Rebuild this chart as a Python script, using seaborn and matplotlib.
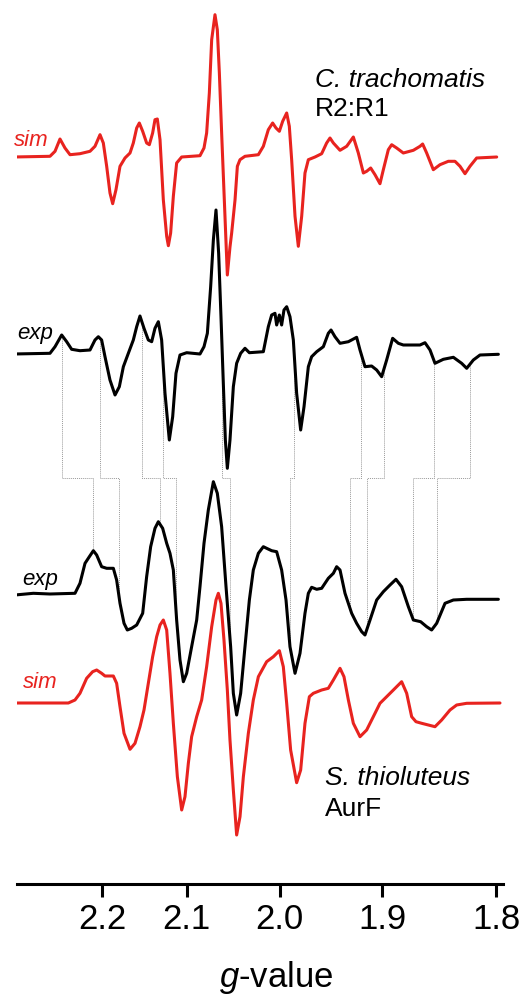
import numpy as np
import pandas as pd
import matplotlib
matplotlib.use("Agg")
import matplotlib.pyplot as plt
import seaborn as sns

# ---------------- data ----------------
nu_GHz = 9.10                      # microwave frequency (field axis)
g_ticks = [2.2, 2.1, 2.0, 1.9, 1.8]

# C. trachomatis R2:R1 simulation (field mT, intensity a.u.)
ct_sim_B = [280.72, 286.83, 287.67, 288.5, 289.33, 290.17, 291.83, 293.5, 294.33, 295.17,
            295.72, 296.28, 296.83, 297.28, 297.83, 298.5, 299.33, 300.17, 300.72, 301.28,
            301.72, 302.28, 302.94, 303.39, 303.94, 304.33, 304.72, 305.17, 305.72, 306.28,
            306.56, 306.94, 307.39, 307.94, 308.78, 311.83, 312.5, 312.94, 313.39, 313.78,
            314.33, 314.72, 315.06, 315.44, 316.0, 316.39, 316.83, 317.11, 317.67, 318.06,
            318.5, 319.33, 321.56, 322.39, 323.22, 323.94, 324.5, 325.06, 325.61, 326.28,
            326.72, 327.11, 327.67, 328.22, 328.78, 329.33, 329.89, 331.0, 332.11, 332.94,
            333.5, 334.06, 335.17, 336.28, 337.39, 338.22, 339.06, 339.61, 340.28, 341.0,
            341.83, 342.39, 343.22, 343.78, 344.61, 345.72, 347.39, 348.5, 348.94, 349.61,
            350.72, 351.83, 353.22, 354.33, 355.17, 356.0, 356.83, 357.94, 361.28]
ct_sim_I = [0.0, 0.07, 0.57, 1.8, 0.9, 0.23, 0.33, 0.57, 1.07, 2.23,
            1.4, -0.93, -3.6, -4.67, -3.27, -0.93, -0.1, 0.4, 1.4, 2.9,
            3.4, 2.57, 1.4, 1.23, 2.4, 3.73, 3.8, 1.73, -4.27, -7.93,
            -8.87, -7.6, -3.93, -0.6, 0.0, 0.13, 0.9, 2.4, 6.4, 11.73,
            14.23, 12.73, 8.4, 2.4, -6.0, -11.8, -9.0, -7.6, -4.3, -0.93,
            -0.27, 0.07, 0.23, 1.07, 2.73, 3.4, 2.9, 2.57, 3.57, 4.4,
            3.07, -0.27, -5.93, -8.93, -5.93, -1.6, -0.27, 0.0, 0.33, 1.4,
            1.9, 1.4, 0.67, 1.07, 2.0, 0.4, -1.6, -1.43, -1.1, -1.77,
            -2.67, -1.27, 0.73, 1.23, 0.9, 0.4, 0.67, 1.07, 1.3, 0.4,
            -1.27, -0.77, -0.43, -0.43, -0.93, -1.67, -0.93, -0.1, 0.0]

# C. trachomatis R2:R1 experiment
ct_exp_B = [280.72, 286.83, 287.67, 288.78, 289.61, 290.44, 291.83, 293.5, 294.33, 294.89,
            295.44, 296.0, 296.83, 297.67, 298.39, 299.06, 299.89, 300.72, 301.28, 301.83,
            302.5, 303.22, 303.78, 304.33, 304.89, 305.44, 306.0, 306.72, 307.28, 307.83,
            308.5, 309.61, 311.83, 312.5, 313.06, 313.61, 314.06, 314.5, 314.94, 315.33,
            315.72, 316.06, 316.39, 316.83, 317.39, 317.94, 318.61, 319.33, 320.06, 322.39,
            323.22, 323.78, 324.33, 324.61, 325.06, 325.44, 325.83, 326.28, 326.83, 327.39,
            327.94, 328.61, 329.17, 329.89, 330.44, 331.28, 332.39, 333.22, 333.67, 334.33,
            335.17, 336.56, 337.94, 338.5, 339.33, 340.44, 341.28, 342.11, 342.94, 343.94,
            344.89, 345.72, 348.5, 349.33, 350.17, 351.0, 352.39, 354.06, 355.44, 356.28,
            357.39, 358.5, 361.56]
ct_exp_I = [0.0, 0.07, 0.73, 1.9, 1.23, 0.47, 0.33, 0.4, 1.4, 1.73,
            1.4, -0.27, -2.6, -4.1, -3.27, -1.27, 0.07, 1.4, 2.73, 3.8,
            2.57, 1.4, 1.23, 2.57, 3.23, 1.4, -3.93, -8.6, -6.27, -1.93,
            -0.1, 0.13, 0.0, 0.73, 2.07, 6.73, 11.4, 14.4, 10.07, 3.73,
            -2.93, -8.6, -11.43, -8.6, -3.27, -0.93, 0.07, 0.57, 0.13, 0.23,
            2.73, 3.9, 4.07, 2.9, 3.9, 2.9, 4.4, 4.73, 3.73, 1.4,
            -3.93, -7.6, -5.27, -1.27, -0.27, 0.23, 0.73, 2.07, 2.4, 1.73,
            1.07, 1.23, 1.67, 0.4, -1.27, -1.2, -1.6, -2.27, -0.6, 1.57,
            1.07, 0.9, 0.9, 1.13, 0.4, -0.93, -0.53, -0.33, -0.93, -1.43,
            -0.6, -0.1, -0.03]

# S. thioluteus AurF experiment
aurf_exp_B = [281.0, 284.06, 286.83, 291.0, 291.83, 292.67, 293.39, 294.06, 294.61, 295.44,
              296.28, 297.39, 297.94, 298.5, 299.17, 299.72, 300.44, 301.28, 302.28, 302.94,
              303.61, 304.33, 304.89, 305.61, 306.28, 306.83, 307.39, 307.94, 308.5, 309.06,
              309.61, 310.44, 311.28, 311.83, 312.5, 313.22, 314.06, 314.72, 315.44, 316.17,
              316.94, 317.39, 317.94, 318.61, 319.33, 320.06, 320.72, 321.56, 322.39, 322.94,
              323.78, 324.61, 325.44, 326.17, 326.83, 327.67, 328.5, 329.33, 329.89, 330.44,
              331.28, 332.11, 333.22, 334.06, 334.61, 335.17, 336.0, 337.11, 337.94, 338.78,
              339.33, 340.17, 341.28, 342.39, 343.5, 344.5, 345.44, 346.56, 347.39, 348.61,
              349.61, 350.44, 351.28, 352.67, 354.06, 356.28, 361.56]
aurf_exp_I = [0.0, 0.17, 0.1, 0.17, 1.17, 3.17, 3.83, 4.43, 4.0, 2.83,
              2.67, 2.67, 1.5, -0.83, -2.83, -3.5, -3.33, -3.0, -1.83, 1.83,
              4.83, 6.67, 7.33, 6.67, 5.17, 4.17, 2.5, -2.5, -6.5, -8.67,
              -7.83, -5.17, -2.5, 0.83, 5.17, 8.5, 11.33, 10.17, 6.83, 0.83,
              -5.17, -9.83, -12.0, -9.83, -5.17, -0.5, 2.5, 4.17, 4.83, 4.67,
              4.43, 4.33, 2.5, -0.5, -5.17, -7.83, -5.83, -1.83, 0.17, 0.77,
              0.57, 0.67, 1.67, 2.17, 2.83, 2.5, 0.17, -1.83, -2.83, -3.67,
              -4.0, -2.5, -0.5, 0.33, 1.0, 1.57, 0.83, -1.17, -2.5, -2.67,
              -3.17, -3.5, -2.83, -0.83, -0.5, -0.43, -0.43]

# S. thioluteus AurF simulation
aurf_sim_B = [281.28, 289.89, 291.0, 291.83, 292.94, 293.94, 294.61, 295.44, 296.0, 297.39,
              297.94, 298.5, 299.17, 300.17, 301.0, 301.83, 302.5, 303.22, 303.94, 304.61,
              305.17, 305.72, 306.28, 306.83, 307.39, 308.06, 308.78, 309.33, 309.89, 310.44,
              311.28, 312.11, 312.94, 313.78, 314.5, 314.89, 315.33, 315.83, 316.39, 316.83,
              317.39, 317.94, 318.5, 319.06, 319.89, 320.72, 321.56, 322.94, 324.06, 325.06,
              325.72, 326.28, 326.94, 327.94, 328.61, 329.33, 330.06, 330.72, 332.11, 333.22,
              334.06, 335.17, 335.83, 336.56, 337.39, 338.5, 339.61, 340.72, 341.83, 342.94,
              344.06, 345.44, 346.28, 347.11, 347.83, 348.78, 349.89, 351.0, 352.11, 353.5,
              354.61, 356.28, 361.83]
aurf_sim_I = [0.0, 0.0, 0.3, 0.97, 2.47, 3.13, 3.3, 2.97, 2.7, 2.7,
              1.97, -0.37, -3.03, -4.63, -4.03, -2.37, -0.7, 1.97, 4.63, 6.63,
              7.8, 8.3, 7.3, 2.97, -2.03, -7.37, -10.7, -9.37, -6.03, -3.37,
              -1.37, 0.3, 3.63, 7.63, 10.3, 10.97, 9.97, 6.3, 1.3, -3.7,
              -8.7, -13.2, -11.37, -7.37, -3.03, 0.3, 2.63, 4.13, 4.63, 5.23,
              3.63, -0.03, -4.7, -7.97, -6.7, -2.03, 0.63, 0.97, 1.3, 1.47,
              2.3, 3.47, 2.63, 0.3, -2.03, -3.37, -2.7, -1.37, -0.03, 0.63,
              1.3, 2.13, 0.97, -1.37, -1.87, -2.03, -2.2, -2.37, -1.7, -0.7,
              -0.2, -0.03, 0.0]

# correlated features (field mT): C. trachomatis line -> AurF line
ct_feature_B = [288.83, 295.17, 302.17, 305.67, 315.5, 327.5, 338.67, 342.5, 350.83, 356.83]
aurf_feature_B = [294.0, 298.33, 305.17, 307.83, 316.83, 326.83, 336.83, 339.67, 347.33, 351.33]

# ---------------- style ----------------
sns.set_style("white")
plt.rcParams["font.family"] = ["Liberation Sans", "DejaVu Sans"]
plt.rcParams["mathtext.fontset"] = "custom"
plt.rcParams["mathtext.it"] = "Liberation Sans:italic"
plt.rcParams["mathtext.rm"] = "Liberation Sans"
plt.rcParams["text.color"] = "black"

W, H = 527, 998
fig = plt.figure(figsize=(W / 100, H / 100), dpi=100)
ax = fig.add_axes([17 / W, (H - 884) / H, 486 / W, 884 / H])

RED = "#e8231f"
BLACK = "#000000"
LW = 2.2

K = 71.4477 * nu_GHz   # B(mT) = K / g
offsets = {"ct_sim": 72.7, "ct_exp": 53.0, "aurf_exp": 28.9, "aurf_sim": 18.1}

traces = [
    ("ct_sim", ct_sim_B, ct_sim_I, RED),
    ("ct_exp", ct_exp_B, ct_exp_I, BLACK),
    ("aurf_exp", aurf_exp_B, aurf_exp_I, BLACK),
    ("aurf_sim", aurf_sim_B, aurf_sim_I, RED),
]
for name, B, I, col in traces:
    df = pd.DataFrame({"B": B, "y": np.asarray(I) + offsets[name]})
    sns.lineplot(data=df, x="B", y="y", ax=ax, color=col, lw=LW, sort=False,
                 estimator=None, zorder=3, solid_joinstyle="round", solid_capstyle="round")

# dotted correlation lines
jog_y = 40.6
for bt, bb in zip(ct_feature_B, aurf_feature_B):
    y_top = np.interp(bt, ct_exp_B, ct_exp_I) + offsets["ct_exp"]
    y_bot = np.interp(bb, aurf_exp_B, aurf_exp_I) + offsets["aurf_exp"]
    ax.plot([bt, bt, bb, bb], [y_top, jog_y, jog_y, y_bot], color="#9a9a9a",
            lw=0.7, ls=(0, (1, 1)), zorder=1)

ax.set_xlim(278.5 + 17 / 6, 278.5 + 503 / 6)
ax.set_ylim(0, 88.4)
ax.set_xticks([K / g for g in g_ticks])
ax.set_xticklabels([f"{g:.1f}" for g in g_ticks], fontsize=25, color="black")
ax.set_yticks([])
ax.set_xlabel("")
ax.set_ylabel("")
for s in ["top", "left", "right"]:
    ax.spines[s].set_visible(False)
ax.spines["bottom"].set_linewidth(LW)
ax.spines["bottom"].set_color("black")
ax.tick_params(axis="x", direction="out", length=9, width=LW, pad=5, colors="black",
               bottom=True)
ax.patch.set_alpha(0)

def ftext(x, y, s, **kw):
    fig.text(x / W, 1 - y / H, s, color=kw.pop("color", "black"), **kw)

ftext(315, 80, "C. trachomatis", fontsize=19, style="italic", va="center", ha="left")
ftext(315, 109, "R2:R1", fontsize=19, va="center", ha="left")
ftext(325, 778, "S. thioluteus", fontsize=19, style="italic", va="center", ha="left")
ftext(325, 809, "AurF", fontsize=19, va="center", ha="left")
ftext(14, 141, "sim", fontsize=16, style="italic", color=RED, va="center", ha="left")
ftext(17, 333, "exp", fontsize=16, style="italic", va="center", ha="left")
ftext(22, 580, "exp", fontsize=16, style="italic", va="center", ha="left")
ftext(23, 683, "sim", fontsize=16, style="italic", color=RED, va="center", ha="left")
ftext(276, 987, "$g$-value", fontsize=25, va="baseline", ha="center")

fig.savefig("out.png", dpi=100)
